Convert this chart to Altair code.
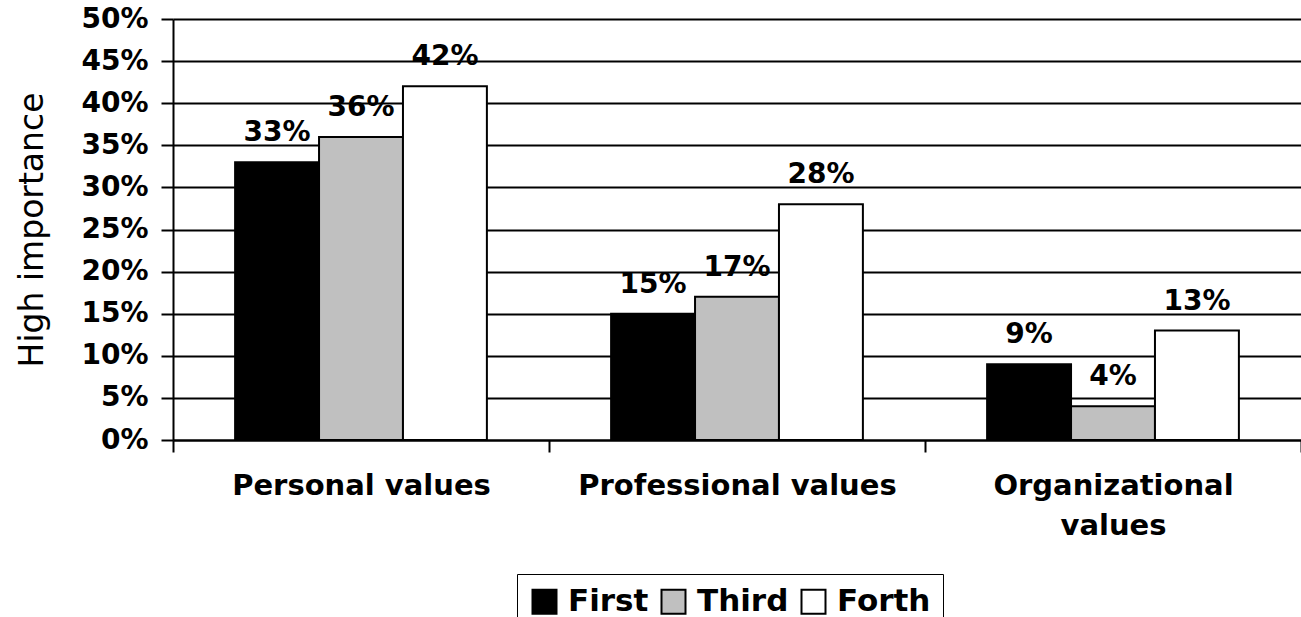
import altair as alt
import pandas as pd

categories = ["Personal values", "Professional values", "Organizational values"]
series = ["First", "Third", "Forth"]
first = [0.33, 0.15, 0.09]
third = [0.36, 0.17, 0.04]
forth = [0.42, 0.28, 0.13]
colors = ["#000000", "#c0c0c0", "#ffffff"]
y_ticks = [i * 0.05 for i in range(11)]

rows = []
for s, vals in zip(series, [first, third, forth]):
    for c, v in zip(categories, vals):
        rows.append({"category": c, "series": s, "value": v})
df = pd.DataFrame(rows)

FONT = "DejaVu Sans"

x_enc = alt.X(
    "category:N",
    sort=categories,
    scale=alt.Scale(paddingInner=0, paddingOuter=0),
    axis=alt.Axis(
        title=None,
        labelAngle=0,
        labelFont=FONT,
        labelFontWeight="bold",
        labelFontSize=29,
        labelColor="#000",
        labelPadding=19,
        labelLineHeight=40,
        labelLimit=500,
        labelExpr="datum.label == 'Organizational values' ? ['Organizational', 'values'] : datum.label",
        tickBand="extent",
        tickSize=12,
        tickColor="#000",
        tickWidth=2,
        domainColor="#000",
        domainWidth=2,
    ),
)
xo_enc = alt.XOffset(
    "series:N",
    sort=series,
    scale=alt.Scale(paddingInner=0, paddingOuter=0.74),
)
y_enc = alt.Y(
    "value:Q",
    scale=alt.Scale(domain=[0, 0.5], nice=False),
    axis=alt.Axis(
        title="High importance",
        titleFont=FONT,
        titleFontSize=33,
        titleFontWeight="normal",
        titleColor="#000",
        titlePadding=31,
        format=".0%",
        values=y_ticks,
        labelFont=FONT,
        labelFontWeight="bold",
        labelFontSize=28,
        labelColor="#000",
        labelPadding=13,
        tickSize=12,
        tickColor="#000",
        tickWidth=2,
        domainColor="#000",
        domainWidth=2,
        grid=True,
        gridColor="#000",
        gridWidth=2,
        gridOpacity=1,
    ),
)

bars = alt.Chart(df).mark_bar(stroke="#000", strokeWidth=2).encode(
    x=x_enc,
    xOffset=xo_enc,
    y=y_enc,
    fill=alt.Fill(
        "series:N",
        sort=series,
        scale=alt.Scale(domain=series, range=colors),
        legend=alt.Legend(
            title=None,
            orient="none",
            legendX=344,
            legendY=555,
            direction="horizontal",
            symbolType="square",
            symbolSize=576,
            symbolStrokeColor="#000",
            symbolStrokeWidth=2,
            labelFont=FONT,
            labelFontWeight="bold",
            labelFontSize=31,
            labelColor="#000",
            labelOffset=8,
            columnPadding=8,
            padding=12,
            strokeColor="#000",
            fillColor="#fff",
        ),
    ),
)

labels = alt.Chart(df).mark_text(
    font=FONT, fontWeight="bold", fontSize=28, color="#000",
    baseline="alphabetic", dy=-21,
).encode(
    x=alt.X("category:N", sort=categories),
    xOffset=alt.XOffset("series:N", sort=series),
    y="value:Q",
    text=alt.Text("value:Q", format=".0%"),
)

chart = alt.layer(bars, labels).properties(
    width=1128,
    height=421,
    autosize=alt.AutoSizeParams(type="none"),
    padding={"left": 173, "top": 19, "right": 0, "bottom": 177},
    background="#ffffff",
).configure_view(stroke=None)

chart.save("out.html", embed_options={"renderer": "svg", "actions": False})
